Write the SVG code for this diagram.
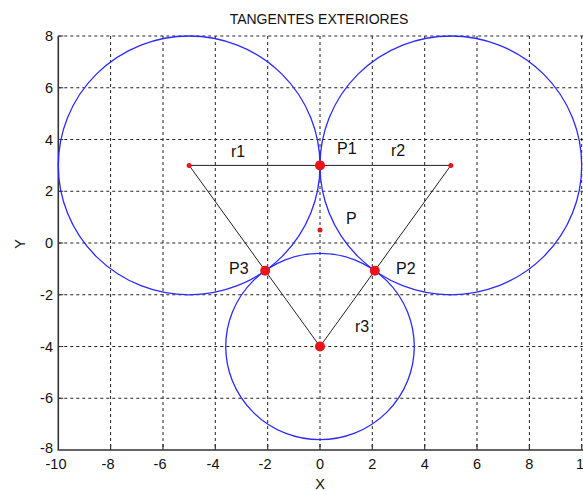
<svg xmlns="http://www.w3.org/2000/svg" width="583" height="491" viewBox="0 0 583 491">
<style>
.grid{stroke:#222;stroke-width:1;stroke-dasharray:3,3;fill:none}
.axis{stroke:#333;stroke-width:1.6;fill:none}
.tick{stroke:#333;stroke-width:1.2}
.circ{stroke:#2a2aff;stroke-width:1.3;fill:none}
.seg{stroke:#222;stroke-width:1;fill:none}
.dot{fill:#e8141b}
.lbl{font-family:"Liberation Sans",Arial,sans-serif;font-size:16px;fill:#111}
.tl{font-family:"Liberation Sans",Arial,sans-serif;font-size:14.5px;fill:#111}
.title{font-family:"Liberation Sans",Arial,sans-serif;font-size:14px;fill:#111}
</style>
<rect width="583" height="491" fill="#fff"/>
<g id="grid">
<path class="grid" d="M110.6 36V450M163 36V450M215.3 36V450M267.7 36V450M320 36V450M372.3 36V450M424.7 36V450M477 36V450M529.4 36V450M581.7 36V450"/>
<path class="grid" d="M58.3 36H583M58.3 87.75H583M58.3 139.5H583M58.3 191.25H583M58.3 243H583M58.3 294.75H583M58.3 346.5H583M58.3 398.25H583"/>
</g>
<g id="axes">
<path class="axis" d="M58.3 36V450H583"/>
<path class="tick" d="M110.6 450v-6M163 450v-6M215.3 450v-6M267.7 450v-6M320 450v-6M372.3 450v-6M424.7 450v-6M477 450v-6M529.4 450v-6M581.7 450v-6"/>
<path class="tick" d="M58.3 36h5M58.3 87.75h5M58.3 139.5h5M58.3 191.25h5M58.3 243h5M58.3 294.75h5M58.3 346.5h5M58.3 398.25h5"/>
<g class="tl" text-anchor="end">
<text x="53" y="41">8</text>
<text x="53" y="93">6</text>
<text x="53" y="145">4</text>
<text x="53" y="196">2</text>
<text x="53" y="248">0</text>
<text x="53" y="300">-2</text>
<text x="53" y="352">-4</text>
<text x="53" y="403">-6</text>
<text x="53" y="453">-8</text>
</g>
<g class="tl" text-anchor="middle">
<text x="56" y="469">-10</text>
<text x="108" y="469">-8</text>
<text x="160" y="469">-6</text>
<text x="213" y="469">-4</text>
<text x="265" y="469">-2</text>
<text x="320" y="469">0</text>
<text x="372.3" y="469">2</text>
<text x="424.7" y="469">4</text>
<text x="477" y="469">6</text>
<text x="529.4" y="469">8</text>
<text x="584" y="469">10</text>
</g>
<text class="tl" x="320" y="489" text-anchor="middle">X</text>
<text class="tl" x="0" y="0" text-anchor="middle" transform="translate(25 244) rotate(-90)">Y</text>
<text class="title" x="319" y="24" text-anchor="middle">TANGENTES EXTERIORES</text>
</g>
<g id="connectors">
<ellipse class="circ" cx="189.15" cy="165.4" rx="130.85" ry="129.4"/>
<ellipse class="circ" cx="450.85" cy="165.4" rx="130.85" ry="129.4"/>
<ellipse class="circ" cx="320" cy="346.5" rx="94.27" ry="93.2"/>
<path class="seg" d="M189.15 165.4H450.85L320 346.5Z"/>
</g>
<g id="C1"><circle class="dot" cx="189.15" cy="165.4" r="2.5"/><text class="lbl" x="231" y="157">r1</text></g>
<g id="C2"><circle class="dot" cx="450.85" cy="165.4" r="2.5"/><text class="lbl" x="391" y="156">r2</text></g>
<g id="C3"><circle class="dot" cx="320" cy="346.5" r="5"/><text class="lbl" x="355" y="332">r3</text></g>
<g id="P1"><circle class="dot" cx="320" cy="165.4" r="5"/><text class="lbl" x="337" y="154">P1</text></g>
<g id="P2"><circle class="dot" cx="374.8" cy="270.7" r="5"/><text class="lbl" x="396" y="274">P2</text></g>
<g id="P3"><circle class="dot" cx="265.2" cy="270.7" r="5"/><text class="lbl" x="229" y="274">P3</text></g>
<g id="P"><circle class="dot" cx="320" cy="230.1" r="2.5"/><text class="lbl" x="346" y="224">P</text></g>
</svg>
